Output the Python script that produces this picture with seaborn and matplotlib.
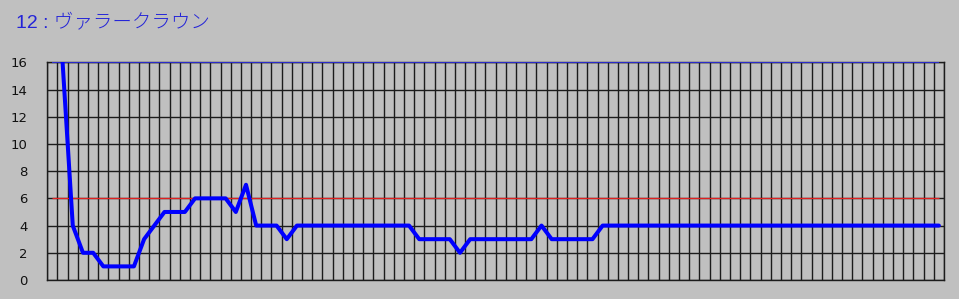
import numpy as np
import pandas as pd
import matplotlib
matplotlib.use("Agg")
import matplotlib.pyplot as plt
import seaborn as sns

# ---- data ----
title_text = "12 : ヴァラークラウン"
categories = list(range(1, 89))  # 88 categories
values = [np.nan, 16, 4, 2, 2, 1, 1, 1, 1, 3,
          4, 5, 5, 5, 6, 6, 6, 6, 5, 7,
          4, 4, 4, 3, 4, 4, 4, 4, 4, 4,
          4, 4, 4, 4, 4, 4, 3, 3, 3, 3,
          2, 3, 3, 3, 3, 3, 3, 3, 4, 3,
          3, 3, 3, 3, 4, 4, 4, 4, 4, 4,
          4, 4, 4, 4, 4, 4, 4, 4, 4, 4,
          4, 4, 4, 4, 4, 4, 4, 4, 4, 4,
          4, 4, 4, 4, 4, 4, 4, 4]
upper_level = 16
red_level = 6
y_ticks = [0, 2, 4, 6, 8, 10, 12, 14, 16]

df = pd.DataFrame({"cat": categories, "value": values})

sns.set_style("white")
plt.rcParams['font.family'] = ['Noto Sans CJK JP', 'DejaVu Sans']

BG = "#c0c0c0"
fig = plt.figure(figsize=(9.59, 2.99), dpi=100, facecolor=BG)
ax = fig.add_axes([47.3 / 959, 19 / 299, (944 - 47.3) / 959, (280 - 62.3) / 299])
ax.set_facecolor(BG)

# reference lines
ax.hlines(upper_level, categories[0], categories[-1], color="#3030ff", lw=1.1, zorder=3)
ax.hlines(red_level, categories[0], categories[-1], color="#e02020", lw=0.9, zorder=3)

sns.lineplot(data=df.dropna(), x="cat", y="value", ax=ax, color="#0000ff",
             linewidth=2.9, zorder=4, legend=False)

ax.set_xlim(categories[0] - 0.5, categories[-1] + 0.5)
ax.set_ylim(y_ticks[0], y_ticks[-1])
ax.set_xticks(np.arange(categories[0] - 0.5, categories[-1] + 1, 1))
ax.set_xticklabels([])
ax.set_yticks(y_ticks)
ax.set_yticklabels([str(t) for t in y_ticks], family=['DejaVu Sans'])
ax.tick_params(axis="x", length=0)
ax.tick_params(axis="y", length=5, width=1.0, color="#1c1c1c", pad=9,
               labelsize=9.5, labelcolor="#111111", direction="out")
ax.grid(True, color="#1c1c1c", linewidth=1.0)
ax.set_axisbelow(True)
ax.set_xlabel("")
ax.set_ylabel("")
for s in ax.spines.values():
    s.set_color("#1c1c1c")
    s.set_linewidth(1.0)

fig.text(16 / 959, 1 - 22 / 299, title_text, color="#2424d8", fontsize=14,
         fontweight="light", va="center", ha="left",
         family=['Liberation Sans', 'Noto Sans CJK JP', 'DejaVu Sans'])

fig.savefig("out.png", dpi=100, facecolor=BG)
